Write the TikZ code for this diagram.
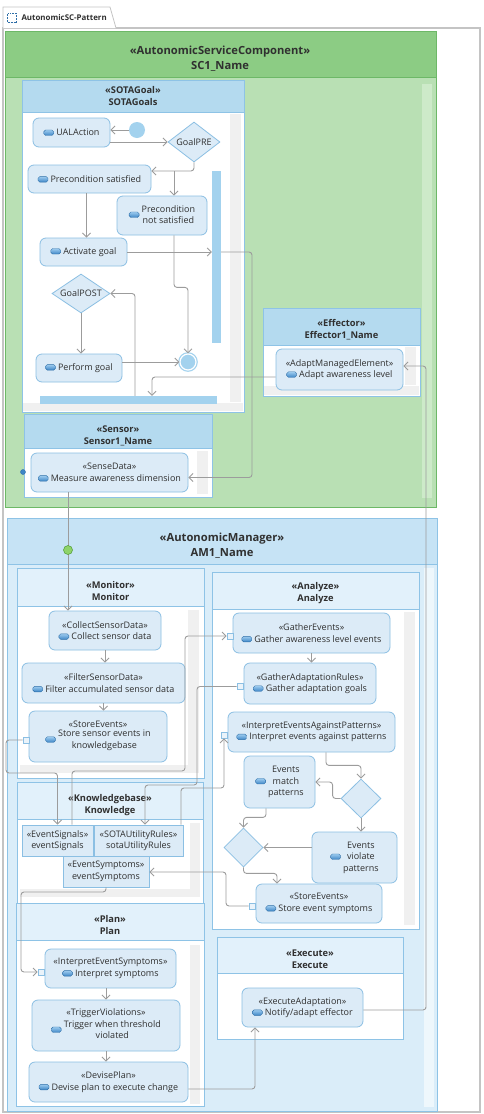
\documentclass[tikz,border=0pt]{standalone}
\usepackage{fontspec}
\setmainfont{Open Sans}
\usepackage{xcolor}
\usepackage{tikz}
\usetikzlibrary{arrows.meta}
\usetikzlibrary{shapes.geometric}

\definecolor{frameline}{HTML}{C4C4C4}
\definecolor{schead}{HTML}{8CCC84}
\definecolor{scbody}{HTML}{B9E0B4}
\definecolor{scline}{HTML}{6DB867}
\definecolor{sctrack}{HTML}{CDEAC9}
\definecolor{boxhead}{HTML}{B4DAEF}
\definecolor{amhead}{HTML}{C6E3F5}
\definecolor{ambody}{HTML}{DAEDF9}
\definecolor{subhead}{HTML}{E2F1FB}
\definecolor{boxline}{HTML}{8EC3E6}
\definecolor{actfill}{HTML}{DCEBF7}
\definecolor{actline}{HTML}{8BBFE3}
\definecolor{barblue}{HTML}{A3D2EE}
\definecolor{flowgray}{HTML}{9C9C9C}
\definecolor{track}{HTML}{F0F0F0}
\definecolor{txt}{HTML}{303030}
\definecolor{icotop}{HTML}{9CCBEF}
\definecolor{icobot}{HTML}{3E86C6}
\definecolor{icoline}{HTML}{2F6FA8}
\definecolor{markgreen}{HTML}{8ED36A}
\definecolor{markline}{HTML}{4E9A32}

\newcommand{\acttext}{\fontsize{9}{11.5}\selectfont}
\newcommand{\titletext}{\fontsize{11.2}{15}\selectfont\bfseries}
\newcommand{\subtext}{\fontsize{9.3}{12}\selectfont\bfseries}
\newcommand{\ico}{\tikz[baseline=-0.3pt]\shade[draw=icoline, top color=icotop, bottom color=icobot, rounded corners=1.8pt, line width=0.4pt] (0pt,0pt) rectangle (10pt,5.5pt);}

\tikzset{
  sz/.style 2 args={minimum width=#1pt, minimum height=#2pt},
  act/.style={draw=actline, fill=actfill, rounded corners=6pt, line width=0.8pt, align=center, inner sep=1.5pt, text=txt, font=\acttext},
  store/.style={draw=actline, fill=actfill, line width=0.8pt, align=center, inner sep=1pt, text=txt, font=\acttext},
  decide/.style={diamond, aspect=1.4, draw=actline, fill=actfill, line width=0.8pt, inner sep=0pt, text=txt, font=\acttext},
  initial/.style={circle, fill=barblue, minimum size=16pt, inner sep=0pt},
  final/.style={circle, draw=barblue, fill=barblue, double=white, double distance=1.2pt, line width=1.2pt, minimum size=16pt, inner sep=0pt},
  bar/.style={fill=barblue, inner sep=0pt},
  port/.style={draw=actline, fill=actfill!60!white, line width=0.7pt, minimum size=6pt, inner sep=0pt},
  flow/.style={draw=flowgray, line width=0.9pt, rounded corners=3pt, -{Straight Barb[length=4pt,width=8pt]}},
  title/.style={font=\titletext, text=txt, align=center},
  subtitle/.style={font=\subtext, text=txt, align=center}
}

\begin{document}
\begin{tikzpicture}[x=1pt, y=-1pt]
\useasboundingbox (0,0) rectangle (483,1114);

% frame and tab
\draw[frameline, line width=1.2pt] (3,28) rectangle (480,1112);
\draw[frameline, fill=white, line width=0.8pt] (3,28) -- (3,7) -- (110,7) -- (116,28);
\draw[icoline, line width=0.5pt, densely dotted] (7.5,13.5) rectangle (16.5,22.5);
\node[font=\fontsize{7.9}{9}\selectfont\bfseries, text=txt, anchor=west] (tabname) at (18,18) {AutonomicSC-Pattern};

% AutonomicServiceComponent
\filldraw[draw=scline, fill=scbody] (5,31) rectangle (436,507);
\filldraw[draw=scline, fill=schead] (5,31) rectangle (436,77);
\fill[sctrack] (422,84) rectangle (432,498);
\node[title] (sctitle) at (220,58.5) {«AutonomicServiceComponent»\\SC1\_Name};

\filldraw[draw=boxline, fill=white] (22,80) rectangle (244,412);
\fill[track] (23,403) rectangle (243,411);
\fill[track] (230,114) rectangle (241,402);
\filldraw[draw=boxline, fill=boxhead] (22,80) rectangle (244,112);
\node[subtitle] (goaltitle) at (133,96) {«SOTAGoal»\\SOTAGoals};

\filldraw[draw=boxline, fill=white] (24,414) rectangle (212,497);
\fill[track] (197,451) rectangle (208,494);
\filldraw[draw=boxline, fill=boxhead] (24,414) rectangle (212,448);
\node[subtitle] (sensortitle) at (118,436) {«Sensor»\\Sensor1\_Name};

\filldraw[draw=boxline, fill=white] (263,308) rectangle (420,396);
\fill[track] (264,386) rectangle (419,395);
\fill[track] (405,347) rectangle (416,385);
\filldraw[draw=boxline, fill=boxhead] (263,308) rectangle (420,345);
\node[subtitle] (efftitle) at (341.5,330) {«Effector»\\Effector1\_Name};

% AutonomicManager
\filldraw[draw=boxline, fill=ambody] (7,518) rectangle (437,1111);
\filldraw[draw=boxline, fill=amhead] (7,518) rectangle (437,564);
\fill[white!55!ambody] (424,568) rectangle (434,1107);
\node[title] (amtitle) at (222,545.5) {«AutonomicManager»\\AM1\_Name};

\filldraw[draw=boxline, fill=white] (17,568) rectangle (204,778);
\fill[track] (188,610) rectangle (199,765);
\fill[track] (20,765) rectangle (199,773);
\filldraw[draw=boxline, fill=subhead] (17,568) rectangle (204,606);
\node[subtitle] (montitle) at (110.5,591) {«Monitor»\\Monitor};

\filldraw[draw=boxline, fill=white] (17,782) rectangle (203,903);
\fill[track] (190,823) rectangle (200,890);
\fill[track] (20,889) rectangle (200,897);
\filldraw[draw=boxline, fill=subhead] (17,782) rectangle (203,819);
\node[subtitle] (kbtitle) at (110,805) {«Knowledgebase»\\Knowledge};

\filldraw[draw=boxline, fill=white] (16,903) rectangle (204,1106);
\fill[track] (190,945) rectangle (200,1104);
\filldraw[draw=boxline, fill=subhead] (16,903) rectangle (204,940);
\node[subtitle] (plantitle) at (110,925) {«Plan»\\Plan};

\filldraw[draw=boxline, fill=white] (212,572) rectangle (419,929);
\fill[track] (404,612) rectangle (415,925);
\filldraw[draw=boxline, fill=subhead] (212,572) rectangle (419,609);
\node[subtitle] (antitle) at (315.5,593) {«Analyze»\\Analyze};

\filldraw[draw=boxline, fill=white] (217,937) rectangle (403,1039);
\filldraw[draw=boxline, fill=subhead] (217,937) rectangle (403,973);
\node[subtitle] (extitle) at (310,959) {«Execute»\\Execute};

% SOTAGoals
\node[act, sz={77}{29}] (ual) at (71.5,132.5) {\ico\ UALAction};
\node[initial] (init) at (137,130) {};
\node[decide, minimum width=52pt, minimum height=40pt] (goalpre) at (194,142) {GoalPRE};
\node[act, sz={123}{28}] (psat) at (89.5,179) {\ico\ Precondition satisfied};
\node[act, sz={90}{39}] (pnot) at (162,215.5) {\ico\ \begin{tabular}{@{}c@{}}Precondition\\not satisfied\end{tabular}};
\node[act, sz={87}{28}] (actgoal) at (83.5,252) {\ico\ Activate goal};
\node[bar, sz={9}{172}] (forkbar) at (216.5,257) {};
\node[decide, minimum width=58pt, minimum height=39pt] (goalpost) at (81,293.5) {GoalPOST};
\node[act, sz={86}{28}] (perform) at (79,368) {\ico\ Perform goal};
\node[final] (final) at (188,362) {};
\node[bar, sz={177}{8}] (joinbar) at (128.5,400) {};

% Sensor and Effector
\node[act, sz={157}{39}] (sense) at (109.5,472.5) {«SenseData»\\\ico\ Measure awareness dimension};
\node[act, sz={127}{41}] (adapt) at (339.5,369.5) {«AdaptManagedElement»\\\ico\ Adapt awareness level};

% Monitor
\node[act, sz={112}{39}] (collect) at (105,630.5) {«CollectSensorData»\\\ico\ Collect sensor data};
\node[act, sz={163}{40}] (filter) at (103.5,683) {«FilterSensorData»\\\ico\ Filter accumulated sensor data};
\node[act, sz={138}{51}] (storesens) at (98,736.5) {«StoreEvents»\\\ico\ \begin{tabular}{@{}c@{}}Store sensor events in\\knowledgebase\end{tabular}};

% Knowledge
\node[store, sz={71}{31}] (evsig) at (57.5,840.5) {«EventSignals»\\eventSignals};
\node[store, sz={89}{31}] (sotarules) at (138.5,840.5) {«SOTAUtilityRules»\\sotaUtilityRules};
\node[store, sz={86}{31}] (evsymp) at (106,871.5) {«EventSymptoms»\\eventSymptoms};

% Analyze
\node[act, sz={157}{40}] (gather) at (311.5,633) {«GatherEvents»\\\ico\ Gather awareness level events};
\node[act, sz={132}{41}] (gathrules) at (310,683.5) {«GatherAdaptationRules»\\\ico\ Gather adaptation goals};
\node[act, sz={167}{40}] (interp) at (311.5,732) {«InterpretEventsAgainstPatterns»\\\ico\ Interpret events against patterns};
\node[act, sz={71}{52}] (match) at (279.5,782) {\ico\ \begin{tabular}{@{}c@{}}Events\\match\\patterns\end{tabular}};
\node[decide, minimum width=40pt, minimum height=39pt] (dec1) at (361,798.5) {};
\node[act, sz={85}{51}] (violate) at (354.5,857.5) {\ico\ \begin{tabular}{@{}c@{}}Events\\violate\\patterns\end{tabular}};
\node[decide, minimum width=39pt, minimum height=39pt] (dec2) at (243.5,847.5) {};
\node[act, sz={126}{39}] (storesymp) at (319,903.5) {«StoreEvents»\\\ico\ Store event symptoms};

% Plan
\node[act, sz={131}{39}] (intsymp) at (110.5,968.5) {«InterpretEventSymptoms»\\\ico\ Interpret symptoms};
\node[act, sz={148}{51}] (trigger) at (106,1025.5) {«TriggerViolations»\\\ico\ \begin{tabular}{@{}c@{}}Trigger when threshold\\violated\end{tabular}};
\node[act, sz={159}{40}] (devise) at (108.5,1082) {«DevisePlan»\\\ico\ Devise plan to execute change};

% Execute
\node[act, sz={121}{39}] (execad) at (302.5,1007.5) {«ExecuteAdaptation»\\\ico\ Notify/adapt effector};

% ports
\node[port] (pstore) at (26,740) {};
\node[port] (pgather) at (230,636) {};
\node[port] (pgrules) at (240,686.5) {};
\node[port] (pinterp) at (224,735) {};
\node[port] (psymp) at (252,906) {};
\node[port] (pintsymp) at (41,972) {};
\node[circle, fill=icobot, draw=icoline, minimum size=5pt, inner sep=0pt] (sport) at (23,472) {};

\coordinate (prebr) at (174,171);
\coordinate (fkr) at (252,252);
\coordinate (kbl) at (6,773);
\coordinate (sigr) at (185,771);
\coordinate (rulr) at (197,785);
\coordinate (intr) at (224,788);
\coordinate (sympr) at (226,872);
\coordinate (plr) at (21,892);
\coordinate (adr) at (426,1010);

% goal flow
\draw[flow] (init) -- (ual.east |- init);
\draw[flow] (ual.east |- goalpre) -- (goalpre.west);
\draw[flow] (goalpre.south) |- ([yshift=8pt]psat.east);
\draw[flow] (prebr) -- (prebr |- pnot.north);
\draw[flow] ([xshift=-3pt]psat.south) -- ([xshift=-3pt]psat.south |- actgoal.north);
\draw[flow] (actgoal) -- (forkbar.west |- actgoal);
\draw[flow] (forkbar.east |- actgoal) -- (fkr) |- ([yshift=-5pt]sense.east);
\draw[flow] (prebr |- pnot.south) -- ++(0,52) -| (final.north);
\draw[flow] ([yshift=6pt]perform.east) -- (final.west);
\draw[flow] (goalpost.south) -- (goalpost.south |- perform.north);
\draw[flow] ([xshift=6.5pt]joinbar.north) |- (goalpost.east);
\draw[flow] ([yshift=-7.5pt]adapt.west) -| ([xshift=23.5pt]joinbar.north);

% manager flow
\draw[flow] ([xshift=-41.5pt]sense.south) -- ([xshift=-41.5pt]sense.south |- collect.north);
\draw[flow] (collect.south) -- (collect.south |- filter.north);
\draw[flow] (filter.south) -- (filter.south |- storesens.north);
\draw[flow] (pstore.west) -| (kbl) -| (evsig.north);
\draw[flow] ([xshift=14.5pt]evsig.north) |- (sigr) |- (pgather.west);
\draw[flow] (pgrules.west) -| (rulr) -| ([xshift=6.5pt]sotarules.north);
\draw[flow] ([xshift=42.5pt]sotarules.north) |- (intr) -- (pinterp.south);
\draw[flow] (psymp.west) -| (sympr) -- (evsymp.east |- sympr);
\draw[flow] (evsymp.south) |- (plr) |- (pintsymp.west);
\draw[flow] (gather.south) -- (gather.south |- gathrules.north);
\draw[flow] ([xshift=14.5pt]interp.south) -- ++(0,13) -| (dec1.north);
\draw[flow] (dec1.west) -- ++(-8,0) |- (match.east);
\draw[flow] (dec1.south) -- (dec1.south |- violate.north);
\draw[flow] (violate.west |- dec2) -- (dec2.east);
\draw[flow] ([xshift=-13.5pt]match.south) -- ++(0,9) -| (dec2.north);
\draw[flow] (dec2.south) -- ++(0,6) -| ([xshift=-42pt]storesymp.north);
\draw[flow] (trigger.north |- intsymp.south) -- (trigger.north);
\draw[flow] (trigger.south) -- (trigger.south |- devise.north);
\draw[flow] ([yshift=-7pt]devise.east) -| ([xshift=-47.5pt]execad.south);
\draw[flow] ([yshift=-2.5pt]execad.east) -| (adr) |- ([yshift=3.5pt]adapt.east);

\node[circle, fill=markgreen, draw=markline, line width=0.5pt, minimum size=9pt, inner sep=0pt] (mark) at (68,550) {};
\end{tikzpicture}
\end{document}
